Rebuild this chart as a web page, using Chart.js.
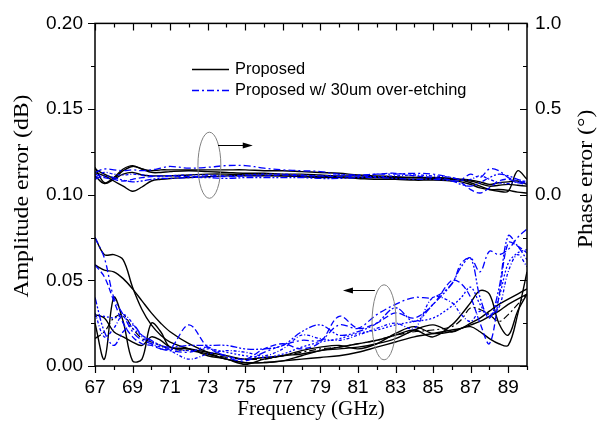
<!DOCTYPE html>
<html>
<head>
<meta charset="utf-8">
<script src="https://cdn.jsdelivr.net/npm/chart.js@4.4.1/dist/chart.umd.min.js"></script>
<style>
  html, body { margin: 0; padding: 0; background: #fff; }
  #wrap { width: 600px; height: 425px; }
</style>
</head>
<body>
<div id="wrap"><canvas id="c" width="600" height="425"></canvas></div>
<script>
// Frequency sample points (GHz)
const freq = [67,67.5,68,68.5,69,69.5,70,70.5,71,72,73,74,75,76,77,78,79,80,81,82,83,84,85,86,86.5,87,87.5,88,88.5,89,89.5,90];

// Amplitude error (dB), proposed design
const ampP1 = [0.075,0.065,0.065,0.062,0.046,0.033,0.024,0.018,0.014, 0.010,0.007,0.004,0.002,0.002,0.003,0.006,0.009,0.011,0.013,0.015,0.018,0.021,0.017,0.024, 0.030,0.037,0.044,0.042,0.025,0.018,0.032,0.042];
const ampP2 = [0.059,0.056,0.055,0.051,0.045,0.038,0.031,0.025,0.020, 0.013,0.008,0.004,0.002,0.002,0.003,0.004,0.005,0.006,0.008,0.011,0.014,0.017,0.019,0.021, 0.022,0.024,0.026,0.029,0.032,0.036,0.039,0.042];
const ampP3 = [0.025,0.004,0.040,0.026,0.003,0.004,0.025,0.020,0.011, 0.010,0.008,0.006,0.004,0.005,0.006,0.009,0.011,0.012,0.010,0.013,0.019,0.023,0.019,0.020, 0.022,0.023,0.020,0.016,0.013,0.012,0.030,0.055];
const ampP4 = [0.016,0.020,0.028,0.030,0.022,0.016,0.014,0.012,0.010, 0.009,0.007,0.005,0.004,0.004,0.006,0.008,0.010,0.011,0.013,0.015,0.018,0.020,0.021,0.023, 0.027,0.034,0.033,0.030,0.026,0.030,0.036,0.042];
const ampP5 = [0.030,0.028,0.020,0.017,0.014,0.012,0.017,0.015,0.011, 0.010,0.006,0.004,0.001,0.004,0.006,0.007,0.009,0.010,0.011,0.013,0.016,0.021,0.024,0.020, 0.022,0.025,0.028,0.032,0.036,0.039,0.042,0.045];

// Amplitude error (dB), with 30um over-etching
const ampE1 = [0.075,0.063,0.040,0.030,0.020,0.015,0.013,0.010,0.009, 0.008,0.011,0.005,0.003,0.008,0.012,0.015,0.015,0.024,0.022,0.030,0.036,0.040,0.040,0.048, 0.060,0.063,0.055,0.067,0.065,0.068,0.075,0.080];
const ampE2 = [0.059,0.052,0.038,0.025,0.017,0.013,0.012,0.010,0.010, 0.024,0.011,0.006,0.004,0.010,0.013,0.010,0.014,0.029,0.022,0.025,0.031,0.028,0.036,0.050, 0.048,0.040,0.025,0.013,0.040,0.072,0.070,0.066];
const ampE3 = [0.040,0.020,0.012,0.020,0.024,0.018,0.015,0.012,0.011, 0.012,0.012,0.012,0.010,0.010,0.012,0.020,0.024,0.018,0.020,0.025,0.034,0.026,0.036,0.048, 0.058,0.063,0.040,0.028,0.045,0.076,0.070,0.062];
const ampE4 = [0.031,0.017,0.022,0.030,0.025,0.017,0.013,0.011,0.009, 0.004,0.007,0.009,0.008,0.006,0.010,0.018,0.016,0.015,0.018,0.022,0.025,0.022,0.040,0.037, 0.030,0.026,0.032,0.030,0.034,0.055,0.065,0.058];
const ampE5 = [0.029,0.029,0.028,0.029,0.022,0.018,0.014,0.012,0.010, 0.009,0.010,0.008,0.006,0.005,0.007,0.011,0.014,0.016,0.019,0.021,0.024,0.026,0.028,0.035, 0.040,0.046,0.036,0.029,0.040,0.060,0.066,0.068];

// Phase error (deg), proposed design
const phP1 = [0.16,0.07,0.10,0.15,0.17,0.15,0.14,0.145,0.145, 0.145,0.145,0.145,0.145,0.14,0.14,0.135,0.13,0.125,0.115,0.11,0.105,0.10,0.095,0.09, 0.085,0.07,0.05,0.03,0.02,0.02,0.14,0.09];
const phP2 = [0.15,0.12,0.10,0.14,0.165,0.15,0.13,0.13,0.135, 0.14,0.135,0.13,0.125,0.125,0.12,0.12,0.115,0.11,0.11,0.105,0.10,0.10,0.10,0.095, 0.09,0.085,0.075,0.06,0.07,0.075,0.08,0.06];
const phP3 = [0.13,0.11,0.08,0.05,0.02,0.045,0.08,0.09,0.095, 0.10,0.105,0.11,0.11,0.11,0.11,0.105,0.10,0.10,0.095,0.09,0.09,0.085,0.085,0.08, 0.075,0.06,0.04,0.03,0.03,0.025,0.015,0.01];
const phP4 = [0.11,0.065,0.09,0.12,0.13,0.115,0.11,0.11,0.11, 0.115,0.12,0.12,0.115,0.115,0.11,0.11,0.105,0.105,0.10,0.10,0.095,0.09,0.09,0.09, 0.085,0.08,0.065,0.05,0.055,0.06,0.055,0.05];

// Phase error (deg), with 30um over-etching
const phE1 = [0.13,0.15,0.145,0.14,0.145,0.14,0.145,0.155,0.165, 0.155,0.16,0.17,0.17,0.155,0.145,0.14,0.135,0.12,0.115,0.12,0.12,0.125,0.12,0.10, 0.09,0.12,0.10,0.15,0.14,0.10,0.08,0.065];
const phE2 = [0.12,0.10,0.09,0.08,0.09,0.10,0.105,0.11,0.11, 0.105,0.11,0.105,0.11,0.11,0.115,0.11,0.11,0.105,0.11,0.12,0.125,0.11,0.10,0.085, 0.07,0.03,0.01,0.04,0.08,0.09,0.07,0.06];
const phE3 = [0.09,0.11,0.10,0.085,0.075,0.08,0.09,0.095,0.095, 0.10,0.10,0.095,0.10,0.10,0.10,0.10,0.095,0.095,0.10,0.10,0.095,0.09,0.09,0.08, 0.06,0.05,0.07,0.10,0.12,0.11,0.09,0.07];
const phE4 = [0.10,0.13,0.12,0.115,0.12,0.115,0.11,0.105,0.11, 0.115,0.115,0.11,0.115,0.12,0.12,0.115,0.11,0.115,0.11,0.105,0.11,0.115,0.11,0.10, 0.085,0.09,0.11,0.09,0.07,0.065,0.075,0.08];

const legendLabels = ['Proposed', 'Proposed w/ 30um over-etching'];

const BLACK = '#000000';
const BLUE = '#0000ff';
const DASH_DOT = [7, 3, 2, 3];
const blueDashes = [[7,3,2,3], [6,3], [7,2,2,2,2,2], [3,2,1,2], [2,2]];

function series(values, axis, color, dash, width) {
  return {
    data: freq.map((f, i) => ({ x: f, y: values[i] })),
    yAxisID: axis,
    borderColor: color,
    borderDash: dash,
    borderWidth: width,
    pointRadius: 0,
    tension: 0.35,
    fill: false
  };
}

const datasets = [];
[ampE1, ampE2, ampE3, ampE4, ampE5].forEach((v, i) => datasets.push(series(v, 'yL', BLUE, blueDashes[i], 1.3)));
[phE1, phE2, phE3, phE4].forEach((v, i) => datasets.push(series(v, 'yR', BLUE, blueDashes[i], 1.3)));
[ampP1, ampP2, ampP3, ampP5].forEach(v => datasets.push(series(v, 'yL', BLACK, [], 1.4)));
datasets.push(series(ampP4, 'yL', BLACK, DASH_DOT, 1.2));
[phP1, phP2, phP3, phP4].forEach(v => datasets.push(series(v, 'yR', BLACK, [], 1.4)));

const tickFont = { family: 'Liberation Sans', size: 19 };
const titleFont = '21px "Liberation Serif"';

// Frame, tick marks, axis titles, legend and callouts
const decor = {
  id: 'decor',
  afterDraw(chart) {
    const { ctx, chartArea: a, scales } = chart;
    const x = scales.x, yL = scales.yL, yR = scales.yR;
    ctx.save();

    ctx.strokeStyle = '#000';
    ctx.lineWidth = 1.5;
    ctx.strokeRect(a.left, a.top, a.right - a.left, a.bottom - a.top);

    ctx.lineWidth = 1.2;
    ctx.beginPath();
    for (let f = 67; f <= 90; f++) {
      const px = Math.round(x.getPixelForValue(f)) + 0.5;
      const len = (f % 2 === 1) ? 7 : 4;
      ctx.moveTo(px, a.bottom); ctx.lineTo(px, a.bottom + len);
      ctx.moveTo(px, a.top); ctx.lineTo(px, a.top + len);
    }
    for (let i = 0; i <= 8; i++) {
      const v = i * 0.025;
      const py = Math.round(yL.getPixelForValue(v)) + 0.5;
      const len = (i % 2 === 0) ? 7 : 4;
      ctx.moveTo(a.left - len, py); ctx.lineTo(a.left, py);
    }
    for (let i = 0; i <= 8; i++) {
      const v = -1 + i * 0.25;
      const py = Math.round(yR.getPixelForValue(v)) + 0.5;
      const len = (i % 2 === 0) ? 7 : 4;
      ctx.moveTo(a.right - len, py); ctx.lineTo(a.right, py);
    }
    ctx.stroke();

    // axis titles
    ctx.fillStyle = '#000';
    ctx.font = titleFont;
    ctx.textAlign = 'center';
    ctx.textBaseline = 'middle';
    ctx.fillText('Frequency (GHz)', (a.left + a.right) / 2, 409);
    ctx.save();
    ctx.translate(22, 196);
    ctx.rotate(-Math.PI / 2);
    ctx.scale(1.13, 1);
    ctx.fillText('Amplitude error (dB)', 0, 0);
    ctx.restore();
    ctx.save();
    ctx.translate(586, 179);
    ctx.rotate(-Math.PI / 2);
    ctx.scale(1.13, 1);
    ctx.fillText('Phase error (\u00B0)', 0, 0);
    ctx.restore();

    // legend
    ctx.font = '16.4px "Liberation Sans"';
    ctx.textAlign = 'left';
    const rows = [
      { y: 69, color: BLACK, dash: [], w: 1.5 },
      { y: 90, color: BLUE, dash: DASH_DOT, w: 1.3 }
    ];
    rows.forEach((r, i) => {
      ctx.strokeStyle = r.color;
      ctx.lineWidth = r.w;
      ctx.setLineDash(r.dash);
      ctx.beginPath();
      ctx.moveTo(192, r.y + 0.5); ctx.lineTo(229, r.y + 0.5);
      ctx.stroke();
      ctx.setLineDash([]);
      ctx.fillStyle = '#000';
      ctx.fillText(legendLabels[i], 235, r.y);
    });

    // callout ellipses and arrows
    function ellipse(cx, cy, rx, ry) {
      ctx.strokeStyle = '#808080';
      ctx.lineWidth = 1;
      ctx.beginPath();
      ctx.ellipse(cx, cy, rx, ry, 0, 0, Math.PI * 2);
      ctx.stroke();
    }
    function arrow(x0, x1, y) {
      const dir = Math.sign(x1 - x0);
      ctx.strokeStyle = '#000';
      ctx.fillStyle = '#000';
      ctx.lineWidth = 1;
      ctx.beginPath();
      ctx.moveTo(x0, y); ctx.lineTo(x1 - dir * 8, y);
      ctx.stroke();
      ctx.beginPath();
      ctx.moveTo(x1, y);
      ctx.lineTo(x1 - dir * 10, y - 3);
      ctx.lineTo(x1 - dir * 10, y + 3);
      ctx.closePath();
      ctx.fill();
    }
    const e1x = x.getPixelForValue(73.09), e1y = yR.getPixelForValue(0.172);
    ellipse(e1x, e1y, x.getPixelForValue(73.7) - e1x, e1y - yR.getPixelForValue(0.365));
    arrow(x.getPixelForValue(73.55), x.getPixelForValue(75.4), Math.round(yR.getPixelForValue(0.29)) + 0.5);
    const e2x = x.getPixelForValue(82.39), e2y = yL.getPixelForValue(0.0255);
    ellipse(e2x, e2y, x.getPixelForValue(83.03) - e2x, e2y - yL.getPixelForValue(0.0474));
    arrow(x.getPixelForValue(81.9), x.getPixelForValue(80.2), Math.round(yL.getPixelForValue(0.0442)) + 0.5);

    ctx.restore();
  }
};

new Chart(document.getElementById('c'), {
  type: 'line',
  data: { datasets },
  options: {
    responsive: false,
    devicePixelRatio: 1,
    animation: false,
    layout: { padding: { top: 19, left: 0, right: 0, bottom: 0 } },
    plugins: { legend: { display: false }, tooltip: { enabled: false } },
    scales: {
      x: {
        type: 'linear', min: 67, max: 90,
        grid: { display: false, drawTicks: false },
        border: { display: false },
        ticks: {
          stepSize: 1, autoSkip: false, maxRotation: 0, padding: 10,
          color: '#000', font: tickFont,
          callback: v => (v % 2 === 1 ? String(v) : '')
        },
        afterFit: s => { s.height = 59; }
      },
      yL: {
        type: 'linear', position: 'left', min: 0, max: 0.2,
        grid: { display: false, drawTicks: false },
        border: { display: false },
        ticks: {
          stepSize: 0.025, autoSkip: false, padding: 12,
          color: '#000', font: tickFont,
          callback: (v, i) => (i % 2 === 0 ? v.toFixed(2) : '')
        },
        afterFit: s => { s.width = 95; }
      },
      yR: {
        type: 'linear', position: 'right', min: -1, max: 1,
        grid: { display: false, drawTicks: false },
        border: { display: false },
        ticks: {
          stepSize: 0.25, autoSkip: false, padding: 8,
          color: '#000', font: tickFont,
          callback: (v, i) => (v >= 0 && i % 2 === 0 ? v.toFixed(1) : '')
        },
        afterFit: s => { s.width = 73; }
      }
    }
  },
  plugins: [decor]
});
</script>
</body>
</html>
